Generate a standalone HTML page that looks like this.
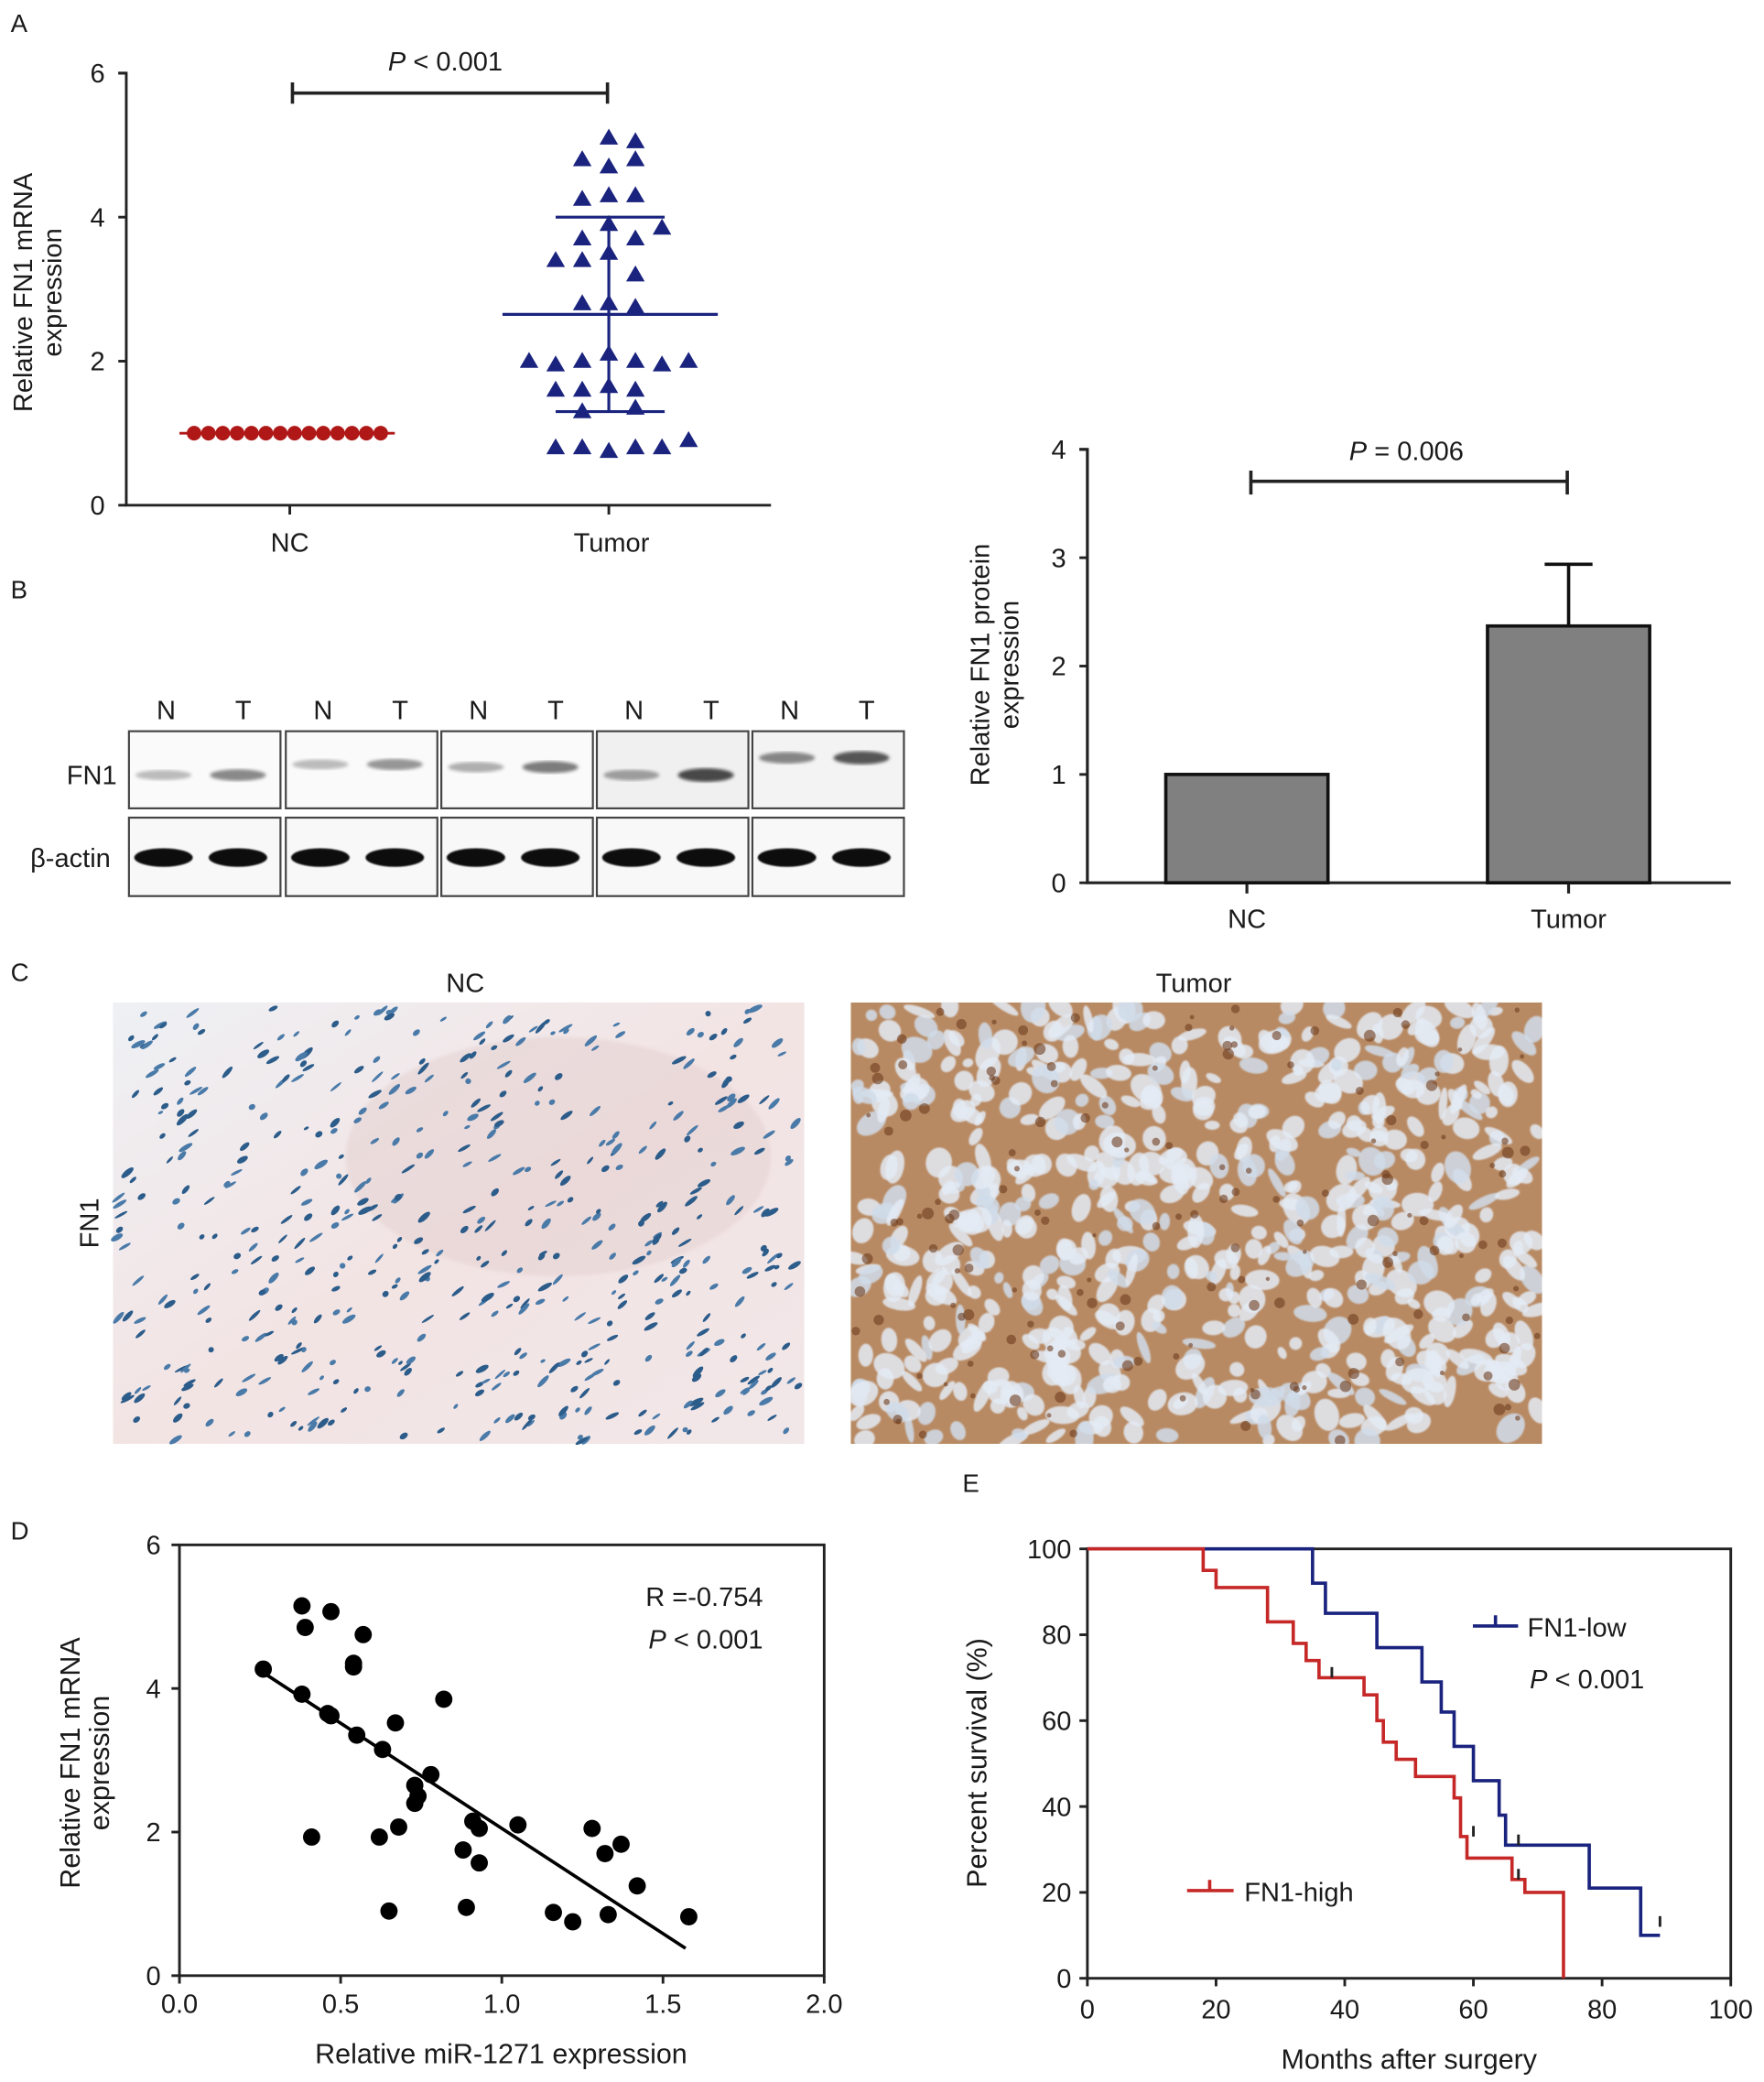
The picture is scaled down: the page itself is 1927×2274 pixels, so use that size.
<!DOCTYPE html>
<html><head><meta charset="utf-8"><style>
html,body{margin:0;padding:0;background:#fff}
svg{display:block}
text{font-family:"Liberation Sans",sans-serif;fill:#1a1a1a}
</style></head><body>
<svg id="fig" width="1927" height="2274" viewBox="0 0 1327 1566" preserveAspectRatio="none" xmlns="http://www.w3.org/2000/svg">
<defs>
<linearGradient id="ncbg" x1="0" y1="0" x2="1" y2="1"><stop offset="0" stop-color="#eef0f4"/><stop offset="0.5" stop-color="#f3e4e4"/><stop offset="1" stop-color="#f1e6e8"/></linearGradient>
<filter id="blur1"><feGaussianBlur stdDeviation="1.2"/></filter>
<filter id="blur2"><feGaussianBlur stdDeviation="0.6"/></filter>
</defs>
<g id="gA"></g>
<g id="gB"></g>
<g id="gC"></g>
<g id="gD"></g>
<g id="gE"></g>
</svg>
<script>
// ---- Panel A data
const aNC = [1,1,1,1,1,1,1,1,1,1,1,1,1,1];
const aTumorVals = [5.1,5.05,4.8,4.7,4.8,4.25,4.3,4.3,3.7,3.9,3.7,3.85,3.4,3.4,3.5,3.2,2.8,2.8,2.75,2.0,1.95,2.0,2.1,2.0,1.95,2.0,1.6,1.6,1.65,1.6,1.3,1.35,0.8,0.8,0.75,0.8,0.8,0.9];
const aTumorOffsets = [0,1,-1,0,1,-1,0,1,-1,0,1,2,-2,-1,0,1,-1,0,1,-3,-2,-1,0,1,2,3,-2,-1,0,1,-1,1,-2,-1,0,1,2,3];
const aTumorMean = 2.65, aTumorSDhi = 4.0, aTumorSDlo = 1.3;
const aTicks = [0,2,4,6];
// ---- Panel B data
const bCats = ["NC","Tumor"];
const bVals = [1.0,2.37];
const bErr = [0,0.57];
const bTicks = [0,1,2,3,4];
const blotFN1 = [0.25,0.45,0.25,0.4,0.3,0.5,0.35,0.7,0.45,0.65];
// ---- Panel D data
const dX = [0.26,0.38,0.39,0.47,0.57,0.54,0.54,0.38,0.46,0.47,0.55,0.67,0.82,0.63,0.78,0.73,0.74,0.73,0.41,0.62,0.68,0.91,0.93,1.05,0.88,0.93,1.28,1.32,1.37,1.42,0.65,0.89,1.16,1.22,1.33,1.58];
const dY = [4.27,5.15,4.85,5.07,4.75,4.35,4.3,3.92,3.65,3.62,3.35,3.52,3.85,3.15,2.8,2.65,2.5,2.4,1.93,1.93,2.07,2.15,2.05,2.1,1.75,1.57,2.05,1.7,1.83,1.25,0.9,0.95,0.88,0.75,0.85,0.82];
const dFit = [[0.26,4.22],[1.57,0.38]];
const dXTicks = [0,0.5,1.0,1.5,2.0];
const dXLabels = ["0.0","0.5","1.0","1.5","2.0"];
const dYTicks = [0,2,4,6];
// ---- Panel E data
const eLowT = [0,35,37,45,52,55,57,60,64,65,78,86,89];
const eLowS = [100,92,85,77,69,62,54,46,38,31,21,10,10];
const eLowCens = [[67,31],[89,12]];
const eHighT = [0,18,20,28,32,34,36,43,45,46,48,51,57,58,59,66,68,74,74];
const eHighS = [100,95,91,83,78,74,70,66,60,55,51,47,42,33,28,23,20,15,0];
const eHighCens = [[38,70],[60,33],[67,23]];
const eXTicks = [0,20,40,60,80,100];
const eYTicks = [0,20,40,60,80,100];

const NS="http://www.w3.org/2000/svg";
function el(parent,tag,attrs,txt){const e=document.createElementNS(NS,tag);for(const k in attrs)e.setAttribute(k,attrs[k]);if(txt!==undefined)e.textContent=txt;parent.appendChild(e);return e;}

// ================= Panel A
(function(){
const g=document.getElementById('gA');
const x0=95,x1=580,yb=380,yt=55;
const ya=v=>yb-(v/6)*(yb-yt);
let t=el(g,'text',{x:8,y:24,'font-size':19},'A');


let ax=el(g,'path',{d:`M${x0-6} ${yt}H${x0}V${yb}H${x1}M218 ${yb}v7M458 ${yb}v7`,stroke:'#222','stroke-width':2,fill:'none'});


aTicks.forEach(v=>{el(g,'path',{d:`M${x0-6} ${ya(v)}H${x0}`,stroke:'#222','stroke-width':2});
 const l=el(g,'text',{x:x0-16,y:ya(v)+7,'font-size':20,'text-anchor':'end'},v);
 
 });
const yl=el(g,'text',{transform:'translate(24,220) rotate(-90)','font-size':20,'text-anchor':'middle'});


el(yl,'tspan',{x:0,dy:0},'Relative FN1 mRNA');el(yl,'tspan',{x:0,dy:22},'expression');
[['NC',218],['Tumor',460]].forEach(([s,x])=>{const l=el(g,'text',{x:x,y:415,'font-size':20,'text-anchor':'middle'},s);
 
 });
const br=el(g,'path',{d:'M220 62v16M220 70H457M457 62v16',stroke:'#222','stroke-width':2.5,fill:'none'});


const pt=el(g,'text',{x:335,y:53,'font-size':20,'text-anchor':'middle'});


el(pt,'tspan',{'font-style':'italic'},'P');el(pt,'tspan',{},' < 0.001');
aNC.forEach((v,i)=>{const c=el(g,'circle',{cx:146+i*10.8,cy:ya(v),r:5.5,fill:'#b01818'});
 
 });
el(g,'path',{d:`M135 ${ya(1)}H297`,stroke:'#b01818','stroke-width':2});
aTumorVals.forEach((v,i)=>{const cx=458+aTumorOffsets[i]*20,cy=ya(v);
 const p=el(g,'path',{d:`M${cx} ${cy-7}L${cx+7} ${cy+5}L${cx-7} ${cy+5}Z`,fill:'#1a237e'});
 
 });
const mm=el(g,'path',{d:`M378 ${ya(aTumorMean)}H540M418 ${ya(aTumorSDhi)}H500M418 ${ya(aTumorSDlo)}H500M458 ${ya(aTumorSDhi)}V${ya(aTumorSDlo)}`,stroke:'#1a237e','stroke-width':2.2,fill:'none'});


})();

// ================= Panel B
(function(){
const g=document.getElementById('gB');
let t=el(g,'text',{x:8,y:450,'font-size':19},'B');


const boxes=[97,215,332,449,566];
boxes.forEach((bx,i)=>{
 ['N','T'].forEach((s,j)=>{const l=el(g,'text',{x:bx+28+j*58,y:541,'font-size':20,'text-anchor':'middle'},s);
  
  });
 const shade=i==3?'#f0f0f0':(i==4?'#f3f3f3':'#fafafa');
 const r1=el(g,'rect',{x:bx,y:550,width:114,height:58,fill:shade,stroke:'#444','stroke-width':1.5});
 
 
 const r2=el(g,'rect',{x:bx,y:615,width:114,height:59,fill:'#f8f8f8',stroke:'#444','stroke-width':1.5});
 
 
 const by=[583,575,577,583,570][i];
 for(let j=0;j<2;j++){const a=blotFN1[i*2+j];
  el(g,'ellipse',{cx:bx+26+j*56,cy:by,rx:21,ry:3+a*3,fill:'#000','fill-opacity':a,filter:'url(#blur1)'});
  el(g,'ellipse',{cx:bx+26+j*56,cy:645,rx:22,ry:7,fill:'#0a0a0a',filter:'url(#blur2)'});}
});
[['FN1',69,590],['β-actin',53,652]].forEach(([s,x,y])=>{const l=el(g,'text',{x:x,y:y,'font-size':20,'text-anchor':'middle'},s);
 
 });
const x0=818,x1=1302,yb=664,yt=338;
const yb_=v=>yb-(v/4)*(yb-yt);
const ax=el(g,'path',{d:`M${x0-6} ${yt}H${x0}V${yb}H${x1}M938 ${yb}v8M1180 ${yb}v8`,stroke:'#222','stroke-width':2.2,fill:'none'});


bTicks.forEach(v=>{el(g,'path',{d:`M${x0-6} ${yb_(v)}H${x0}`,stroke:'#222','stroke-width':2});
 const l=el(g,'text',{x:x0-16,y:yb_(v)+7,'font-size':20,'text-anchor':'end'},v);
 
 });
const yl=el(g,'text',{transform:'translate(744,500) rotate(-90)','font-size':20,'text-anchor':'middle'});


el(yl,'tspan',{x:0,dy:0},'Relative FN1 protein');el(yl,'tspan',{x:0,dy:22},'expression');
const cx=[938,1180];
bVals.forEach((v,i)=>{
 const r=el(g,'rect',{x:cx[i]-61,y:yb_(v),width:122,height:yb-yb_(v),fill:'#808080',stroke:'#111','stroke-width':2.5});
 
 
 if(bErr[i]>0){const e=el(g,'path',{d:`M${cx[i]} ${yb_(v)}V${yb_(v+bErr[i])}M${cx[i]-18} ${yb_(v+bErr[i])}H${cx[i]+18}`,stroke:'#111','stroke-width':2.5});
  
  }
 const l=el(g,'text',{x:cx[i],y:698,'font-size':20,'text-anchor':'middle'},bCats[i]);
 
 
});
const br=el(g,'path',{d:'M941 354v18M941 362H1179M1179 354v18',stroke:'#222','stroke-width':2.5,fill:'none'});


const pt=el(g,'text',{x:1058,y:346,'font-size':20,'text-anchor':'middle'});


el(pt,'tspan',{'font-style':'italic'},'P');el(pt,'tspan',{},' = 0.006');
})();

// ================= Panel C (histology textures)
(function(){
const g=document.getElementById('gC');
let s=12345;const rnd=()=>{s=(s*16807)%2147483647;return s/2147483647;};
let t=el(g,'text',{x:8,y:738,'font-size':19},'C');


[['NC',350],['Tumor',898]].forEach(([s2,x])=>{const l=el(g,'text',{x:x,y:746,'font-size':20,'text-anchor':'middle'},s2);
 
 });
const fl=el(g,'text',{transform:'translate(74,920) rotate(-90)','font-size':20,'text-anchor':'middle'},'FN1');


const n=el(g,'g',{});


el(n,'rect',{x:85,y:754,width:520,height:332,fill:'url(#ncbg)'});
el(n,'ellipse',{cx:420,cy:870,rx:160,ry:90,fill:'#e6d2d2','fill-opacity':0.6,filter:'url(#blur1)'});
for(let i=0;i<520;i++){const x=87+rnd()*514,y=756+rnd()*328;
 el(n,'ellipse',{cx:x,cy:y,rx:2+rnd()*4,ry:1+rnd()*1.2,fill:rnd()<0.5?'#2c5c8a':'#4a7aa8',transform:`rotate(${-25-rnd()*25} ${x} ${y})`});}
const tm=el(g,'g',{});


el(tm,'svg',{x:640,y:754,width:520,height:332,viewBox:'640 754 520 332',overflow:'hidden'});
const clip=tm.lastChild;
el(clip,'rect',{x:640,y:754,width:520,height:332,fill:'#b88a63'});
for(let i=0;i<650;i++){const x=642+rnd()*516,y=756+rnd()*328;
 el(clip,'ellipse',{cx:x,cy:y,rx:4+rnd()*9,ry:3+rnd()*7,fill:rnd()<0.75?'#e4ebf4':'#d0dcea','fill-opacity':0.85,filter:'url(#blur2)',transform:`rotate(${rnd()*180} ${x} ${y})`});}
for(let i=0;i<160;i++){const x=642+rnd()*516,y=756+rnd()*328;
 el(clip,'circle',{cx:x,cy:y,r:1.5+rnd()*3,fill:'#6e3e20','fill-opacity':0.6});}
})();

// ================= Panel D
(function(){
const g=document.getElementById('gD');
const x0=135,x1=620,yb=1486,yt=1162;
const xs=v=>x0+(v/2)*(x1-x0), ys=v=>yb-(v/6)*(yb-yt);
let t=el(g,'text',{x:8,y:1158,'font-size':19},'D');


const fr=el(g,'rect',{x:x0,y:yt,width:x1-x0,height:yb-yt,fill:'none',stroke:'#222','stroke-width':2});


dYTicks.forEach(v=>{el(g,'path',{d:`M${x0-6} ${ys(v)}H${x0}`,stroke:'#222','stroke-width':2});
 const l=el(g,'text',{x:x0-14,y:ys(v)+7,'font-size':20,'text-anchor':'end'},v);
 
 });
dXTicks.forEach((v,i)=>{el(g,'path',{d:`M${xs(v)} ${yb}v6`,stroke:'#222','stroke-width':2});
 const l=el(g,'text',{x:xs(v),y:yb+28,'font-size':20,'text-anchor':'middle'},dXLabels[i]);
 
 });
const yl=el(g,'text',{transform:'translate(60,1326) rotate(-90)','font-size':21,'text-anchor':'middle'});


el(yl,'tspan',{x:0,dy:0},'Relative FN1 mRNA');el(yl,'tspan',{x:0,dy:22},'expression');
const xl=el(g,'text',{x:377,y:1552,'font-size':21,'text-anchor':'middle'},'Relative miR-1271 expression');


dX.forEach((v,i)=>{const c=el(g,'circle',{cx:xs(v),cy:ys(dY[i]),r:6.5,fill:'#000'});
 
 });
const fit=el(g,'path',{d:`M${xs(dFit[0][0])} ${ys(dFit[0][1])}L${xs(dFit[1][0])} ${ys(dFit[1][1])}`,stroke:'#000','stroke-width':2.5});


const r=el(g,'text',{x:574,y:1208,'font-size':20,'text-anchor':'end'},'R =-0.754');


const p=el(g,'text',{x:574,y:1240,'font-size':20,'text-anchor':'end'});


el(p,'tspan',{'font-style':'italic'},'P');el(p,'tspan',{},' < 0.001');
})();

// ================= Panel E
(function(){
const g=document.getElementById('gE');
const x0=818,x1=1302,yb=1488,yt=1165;
const xs=v=>x0+(v/100)*(x1-x0), ys=v=>yb-(v/100)*(yb-yt);
let t=el(g,'text',{x:724,y:1122,'font-size':19},'E');


const fr=el(g,'rect',{x:x0,y:yt,width:x1-x0,height:yb-yt,fill:'none',stroke:'#222','stroke-width':2});


eYTicks.forEach(v=>{el(g,'path',{d:`M${x0-6} ${ys(v)}H${x0}`,stroke:'#222','stroke-width':2});
 const l=el(g,'text',{x:x0-12,y:ys(v)+7,'font-size':20,'text-anchor':'end'},v);
 
 });
eXTicks.forEach(v=>{el(g,'path',{d:`M${xs(v)} ${yb}v6`,stroke:'#222','stroke-width':2});
 const l=el(g,'text',{x:xs(v),y:yb+30,'font-size':20,'text-anchor':'middle'},v);
 
 });
const yl=el(g,'text',{transform:'translate(742,1326) rotate(-90)','font-size':21,'text-anchor':'middle'},'Percent survival (%)');


const xl=el(g,'text',{x:1060,y:1556,'font-size':21,'text-anchor':'middle'},'Months after surgery');


function km(T,S,col,name){let d=`M${xs(T[0])} ${ys(S[0])}`;
 for(let i=1;i<T.length;i++){d+=`H${xs(T[i])}V${ys(S[i])}`;}
 const p=el(g,'path',{d:d,stroke:col,'stroke-width':2.5,fill:'none'});
 
 }
km(eLowT,eLowS,'#1a237e','fn1-low-curve');
km(eHighT,eHighS,'#c62828','fn1-high-curve');
eLowCens.forEach(([tt,sv])=>{const c=el(g,'path',{d:`M${xs(tt)} ${ys(sv)}v-8`,stroke:'#222','stroke-width':2});
 
 });
eHighCens.forEach(([tt,sv])=>{const c=el(g,'path',{d:`M${xs(tt)} ${ys(sv)}v-8`,stroke:'#222','stroke-width':2});
 
 });
const l1=el(g,'g',{});


el(l1,'path',{d:'M1108 1223H1142M1125 1223v-8',stroke:'#1a237e','stroke-width':2.5});
el(l1,'text',{x:1149,y:1231,'font-size':20},'FN1-low');
const l2=el(g,'g',{});


el(l2,'path',{d:'M893 1422H928M910 1422v-8',stroke:'#c62828','stroke-width':2.5});
el(l2,'text',{x:936,y:1430,'font-size':20},'FN1-high');
const p=el(g,'text',{x:1237,y:1270,'font-size':20,'text-anchor':'end'});


el(p,'tspan',{'font-style':'italic'},'P');el(p,'tspan',{},' < 0.001');
})();
</script>
</body></html>
